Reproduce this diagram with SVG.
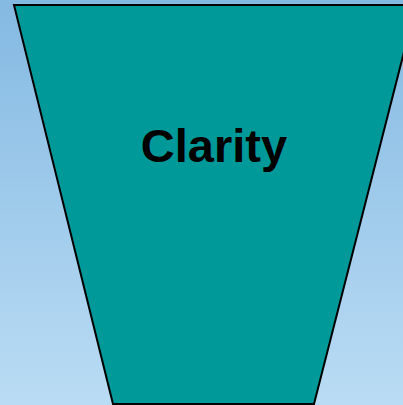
<svg xmlns="http://www.w3.org/2000/svg" width="403" height="405" viewBox="0 0 403 405">
<defs>
<linearGradient id="bg" x1="0" y1="0" x2="0" y2="1">
<stop offset="0" stop-color="#84b9e2"/>
<stop offset="1" stop-color="#badcf4"/>
</linearGradient>
<style>
.funnel{fill:#009999;stroke:#000;stroke-width:2}
.lbl{font-family:"Liberation Sans",Arial,sans-serif;font-weight:bold;font-size:47px;fill:#000;text-anchor:middle}
</style>
</defs>
<rect width="403" height="405" fill="url(#bg)"/>
<g id="funnel">
<polygon class="funnel" points="14,5 416,5 314,404 113,404"/>
<text class="lbl" x="214" y="162">Clarity</text>
</g>
</svg>
